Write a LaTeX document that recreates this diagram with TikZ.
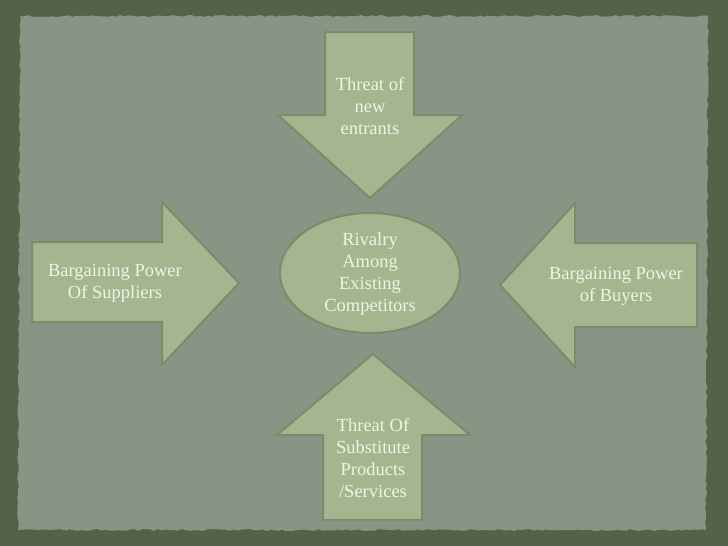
\documentclass[tikz,border=0pt]{standalone}
\usepackage{fontspec}
\setmainfont{Liberation Serif}
\usetikzlibrary{decorations.pathmorphing}
\definecolor{outerc}{RGB}{84,99,72}
\definecolor{paperc}{RGB}{138,148,132}
\definecolor{afill}{RGB}{164,182,143}
\definecolor{aedge}{RGB}{122,140,104}
\definecolor{txtc}{RGB}{242,242,230}
\begin{document}
\begin{tikzpicture}[x=1pt,y=-1pt,
  forceshape/.style={fill=afill,draw=aedge,line width=2pt,line join=miter},
  lbl/.style={text=txtc,align=center,font=\fontsize{18.5}{22}\selectfont,inner sep=0pt}]
\fill[outerc] (0,0) rectangle (728,546);
\useasboundingbox (0,0) rectangle (728,546);
\fill[paperc, decorate, decoration={random steps,segment length=4pt,amplitude=1pt}]
  (20,16) -- (708,16) -- (706,530) -- (18,530) -- cycle;
% top arrow (down)
\draw[forceshape] (325,32) -- (414,32) -- (414,115) -- (462,115) -- (370,198) -- (278,115) -- (325,115) -- cycle;
% left arrow (right)
\draw[forceshape] (32,242) -- (162,242) -- (162,202) -- (239,283) -- (162,365) -- (162,322) -- (32,322) -- cycle;
% right arrow (left)
\draw[forceshape] (697,243) -- (575,243) -- (575,203) -- (500,285) -- (575,367) -- (575,327) -- (697,327) -- cycle;
% bottom arrow (up)
\draw[forceshape] (323,520) -- (422,520) -- (422,435) -- (470,435) -- (373,354) -- (277,435) -- (323,435) -- cycle;
% centre ellipse
\draw[forceshape] (370,273) ellipse [x radius=90, y radius=60];
% labels
\node[lbl] (newentrants) at (370,106) {Threat of\\new\\entrants};
\node[lbl] (suppliers) at (115,283) {Bargaining Power\\Of Suppliers};
\node[lbl] (buyers) at (616,286) {Bargaining Power\\of Buyers};
\node[lbl] (rivalry) at (370,274) {Rivalry\\Among\\Existing\\Competitors};
\node[lbl] (substitutes) at (373,458) {Threat Of\\Substitute\\Products\\/Services};
\end{tikzpicture}
\end{document}
